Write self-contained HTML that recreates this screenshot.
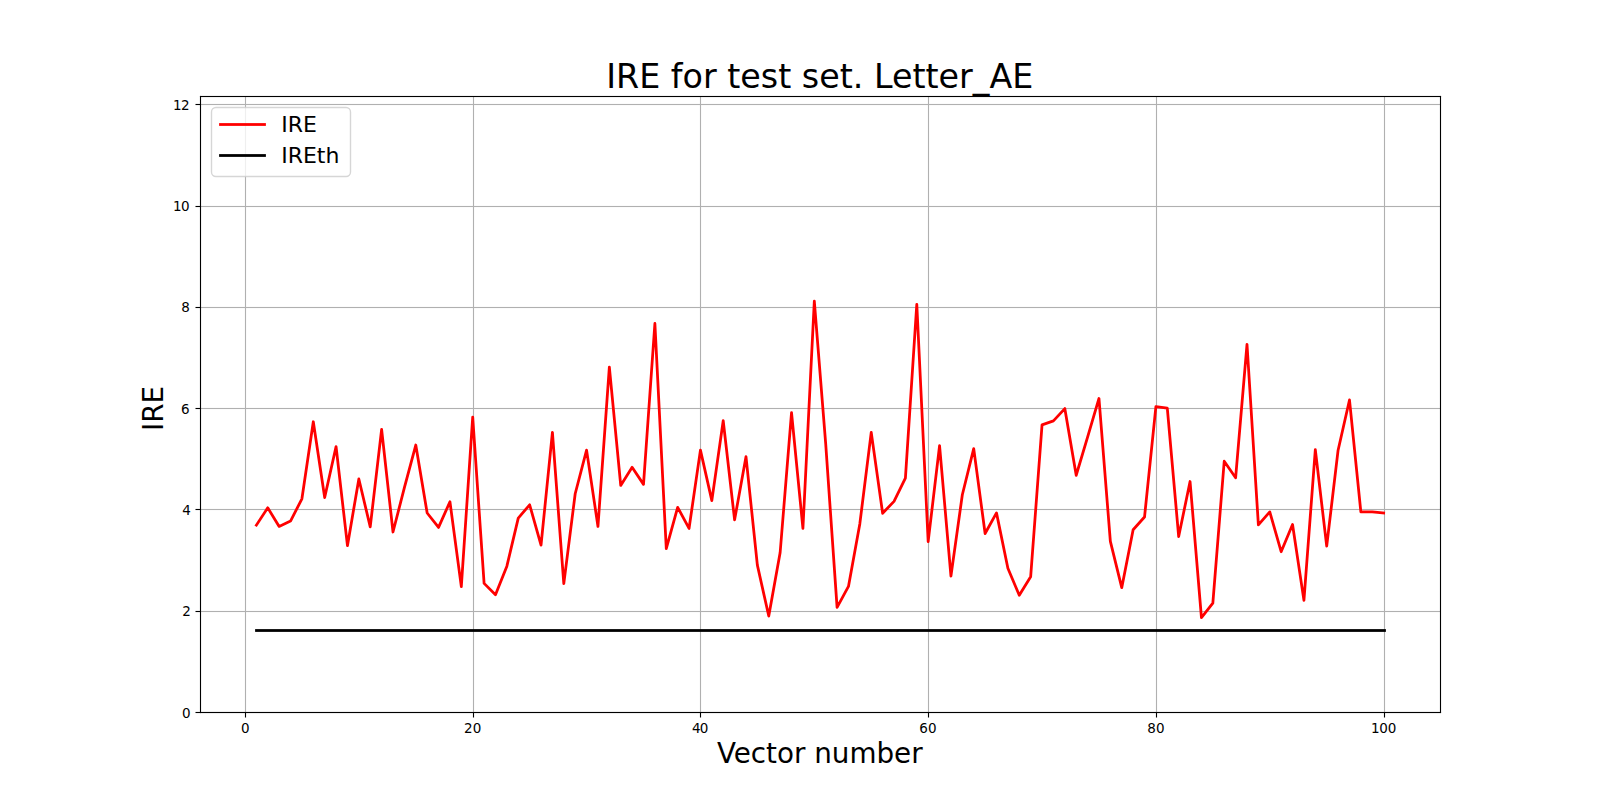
<!DOCTYPE html>
<html lang="en">
<head>
<meta charset="utf-8">
<title>IRE for test set. Letter_AE</title>
<style>
html,body{margin:0;padding:0;background:#fff;}
body{width:1600px;height:800px;overflow:hidden;}
svg{display:block;}
text{font-family:"DejaVu Sans","Liberation Sans",sans-serif;fill:#000;}
.tick{font-size:13.5px;}
.title{font-size:33.333px;}
.lab{font-size:27.778px;}
.leg{font-size:22.0px;}
.grid rect{fill:#b0b0b0;}
.ax rect{fill:#000;}
</style>
</head>
<body>
<svg width="1600" height="800" viewBox="0 0 1600 800">
<rect x="0" y="0" width="1600" height="800" fill="#ffffff"/>
<g class="grid">
<rect x="244.945" y="96.000" width="1.111" height="616.000"/>
<rect x="472.945" y="96.000" width="1.111" height="616.000"/>
<rect x="699.944" y="96.000" width="1.111" height="616.000"/>
<rect x="927.944" y="96.000" width="1.111" height="616.000"/>
<rect x="1155.945" y="96.000" width="1.111" height="616.000"/>
<rect x="1383.945" y="96.000" width="1.111" height="616.000"/>
<rect x="200.000" y="711.944" width="1240.000" height="1.111"/>
<rect x="200.000" y="610.944" width="1240.000" height="1.111"/>
<rect x="200.000" y="508.945" width="1240.000" height="1.111"/>
<rect x="200.000" y="407.945" width="1240.000" height="1.111"/>
<rect x="200.000" y="306.945" width="1240.000" height="1.111"/>
<rect x="200.000" y="205.945" width="1240.000" height="1.111"/>
<rect x="200.000" y="103.945" width="1240.000" height="1.111"/>
</g>
<polyline points="256.36,525.15 267.75,507.83 279.14,526.42 290.52,521.10 301.91,498.82 313.30,421.75 324.68,497.55 336.07,446.56 347.46,545.66 358.84,478.97 370.23,526.92 381.62,429.34 393.00,531.99 404.39,487.68 415.78,445.04 427.16,513.00 438.55,527.43 449.94,501.75 461.32,586.67 472.71,417.19 484.10,583.38 495.48,594.78 506.87,566.17 518.26,518.06 529.64,504.79 541.03,545.15 552.42,432.38 563.80,583.64 575.19,493.75 586.57,450.11 597.96,526.42 609.35,367.06 620.73,485.40 632.12,467.32 643.51,484.39 654.89,323.51 666.28,548.70 677.67,507.32 689.05,528.44 700.44,450.11 711.83,500.59 723.21,420.74 734.60,519.83 745.99,456.69 757.37,565.15 768.76,616.04 780.15,552.49 791.53,412.63 802.92,528.44 814.31,301.23 825.69,443.62 837.08,607.43 848.47,586.42 859.85,523.63 871.24,432.38 882.63,513.25 894.01,501.35 905.40,478.06 916.79,304.27 928.17,541.61 939.56,445.55 950.95,576.04 962.33,494.77 973.72,448.59 985.11,533.50 996.49,512.90 1007.88,568.19 1019.27,595.28 1030.65,576.80 1042.04,424.89 1053.43,420.84 1064.81,408.58 1076.20,475.27 1087.58,437.04 1098.97,398.46 1110.36,541.35 1121.74,587.69 1133.13,529.71 1144.52,517.05 1155.90,406.66 1167.29,408.18 1178.68,536.54 1190.06,481.50 1201.45,617.56 1212.84,603.13 1224.22,461.25 1235.61,477.80 1247.00,344.27 1258.38,524.90 1269.77,511.88 1281.16,551.73 1292.54,524.54 1303.93,600.35 1315.32,449.60 1326.70,546.16 1338.09,450.21 1349.48,399.97 1360.86,511.98 1372.25,511.98 1383.64,513.00" fill="none" stroke="#ff0000" stroke-width="2.778" stroke-linejoin="round" stroke-linecap="square"/>
<rect x="255.111" y="629.111" width="1130.778" height="2.778" fill="#000000"/>
<g class="ax">
<rect x="244.945" y="712.500" width="1.111" height="5.000"/>
<rect x="472.945" y="712.500" width="1.111" height="5.000"/>
<rect x="699.944" y="712.500" width="1.111" height="5.000"/>
<rect x="927.944" y="712.500" width="1.111" height="5.000"/>
<rect x="1155.945" y="712.500" width="1.111" height="5.000"/>
<rect x="1383.945" y="712.500" width="1.111" height="5.000"/>
<rect x="195.500" y="711.944" width="5.000" height="1.111"/>
<rect x="195.500" y="610.944" width="5.000" height="1.111"/>
<rect x="195.500" y="508.945" width="5.000" height="1.111"/>
<rect x="195.500" y="407.945" width="5.000" height="1.111"/>
<rect x="195.500" y="306.945" width="5.000" height="1.111"/>
<rect x="195.500" y="205.945" width="5.000" height="1.111"/>
<rect x="195.500" y="103.945" width="5.000" height="1.111"/>
<rect x="199.945" y="95.945" width="1.111" height="617.110"/>
<rect x="1439.945" y="95.945" width="1.111" height="617.110"/>
<rect x="199.945" y="95.945" width="1241.110" height="1.111"/>
<rect x="199.945" y="711.944" width="1241.110" height="1.111"/>
</g>
<g class="tick">
<text x="245.23" y="733.3" text-anchor="middle">0</text>
<text x="472.71" y="733.3" text-anchor="middle">20</text>
<text x="700.19" y="733.3" dx="0 -0.75" text-anchor="middle">40</text>
<text x="927.92" y="733.3" text-anchor="middle">60</text>
<text x="1155.90" y="733.3" text-anchor="middle">80</text>
<text x="1383.64" y="733.3" dx="0 -0.25 -0.25" text-anchor="middle">100</text>
<text x="190.55" y="718.40" text-anchor="end">0</text>
<text x="190.80" y="616.13" text-anchor="end">2</text>
<text x="190.80" y="514.85" text-anchor="end">4</text>
<text x="189.55" y="413.58" text-anchor="end">6</text>
<text x="189.80" y="312.30" text-anchor="end">8</text>
<text x="189.55" y="211.03" dx="0 -0.75" text-anchor="end">10</text>
<text x="189.55" y="109.76" dx="0 -0.75" text-anchor="end">12</text>
</g>
<text class="title" x="819.75" y="87.67" text-anchor="middle">IRE for test set. Letter_AE</text>
<text class="lab" x="819.75" y="763.0" text-anchor="middle">Vector number</text>
<text class="lab" transform="translate(163.0,408.5) rotate(-90)" text-anchor="middle">IRE</text>
<g>
<rect x="211.5" y="107.5" width="139" height="69" rx="4.44" ry="4.44" fill="#ffffff" fill-opacity="0.8" stroke="#cccccc" stroke-opacity="0.8" stroke-width="1.389"/>
<rect x="219.111" y="123.111" width="46.778" height="2.778" fill="#ff0000"/>
<rect x="219.111" y="154.111" width="46.778" height="2.778" fill="#000000"/>
<text class="leg" x="281.2" y="132.0">IRE</text>
<text class="leg" x="281.2" y="163.0">IREth</text>
</g>
</svg>
</body>
</html>
